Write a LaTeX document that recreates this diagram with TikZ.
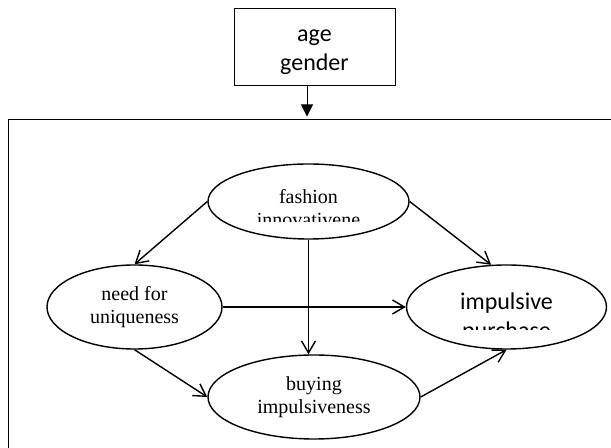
\documentclass[tikz,border=0pt]{standalone}
\usepackage{fontspec}
\setmainfont{Liberation Serif}
\newfontfamily\calibri{Carlito}
\usetikzlibrary{shapes.geometric,arrows.meta,positioning}

\begin{document}
\begin{tikzpicture} [
      x = 0.5pt, y = -0.5pt,
      construct/.style = { draw, ellipse, line width = 0.7pt, inner sep = 0, align = center,
                           font = \fontsize{10}{11.5}\selectfont },
      plainbox/.style = { draw, line width = 0.5pt, inner sep = 0 },
      sanstext/.style = { align = center, inner sep = 0, font = \calibri\fontsize{12}{14.5}\selectfont },
      link/.style = { line width = 0.7pt, -{Straight Barb[length=6pt,width=7pt]} }
      ]

    \useasboundingbox (0,0) rectangle (611,448);
    \clip (0,0) rectangle (611,448);

    \node [plainbox, sanstext, minimum width = 80.5pt, minimum height = 38.5pt] (control) at (314.5,47.5) {\strut age\\gender};
    \node [plainbox, anchor = north west, minimum width = 320pt, minimum height = 200pt] (frame) at (8,119.5) {};

    \node [construct, minimum width = 100.5pt, minimum height = 37.5pt] (fashion) at (308.5,201.5) {};
    \node [construct, minimum width = 87.5pt, minimum height = 42pt] (need) at (134.5,307) {need for\\uniqueness};
    \node [construct, minimum width = 100pt, minimum height = 42pt] (purchase) at (506.5,307) {};
    \node [construct, minimum width = 106pt, minimum height = 42pt] (buying) at (314,397) {buying\\impulsiveness};

    % texts cut off by their boxes
    \begin{scope}
      \clip (200,160) rectangle (420,222);
      \node [align = center, inner sep = 0, font = \fontsize{10}{11.5}\selectfont] (fashiontext) at (308.5,208) {fashion\\innovativene};
    \end{scope}
    \begin{scope}
      \clip (400,260) rectangle (610,330);
      \node [sanstext] (purchasetext) at (506.5,318) {impulsive\\purchase};
    \end{scope}

    \draw [-{Triangle[length=6pt,width=6pt]}, line width = 0.5pt, shorten > = 1.5pt]
      ([xshift=-3.75pt]control.south) -- ([xshift=-3.75pt]control.south |- frame.north);

    \draw [link] (fashion.west) -- (need.north);
    \draw [link] (fashion.east) -- (purchase.110);
    \draw [link] (fashion.south) -- (fashion.south |- buying.north);
    \draw [link] (need.east) -- (need.east -| purchase.west);
    \draw [link] (need.south) -- (buying.west);
    \draw [link] (buying.east) -- (purchase.south);
\end{tikzpicture}
\end{document}
